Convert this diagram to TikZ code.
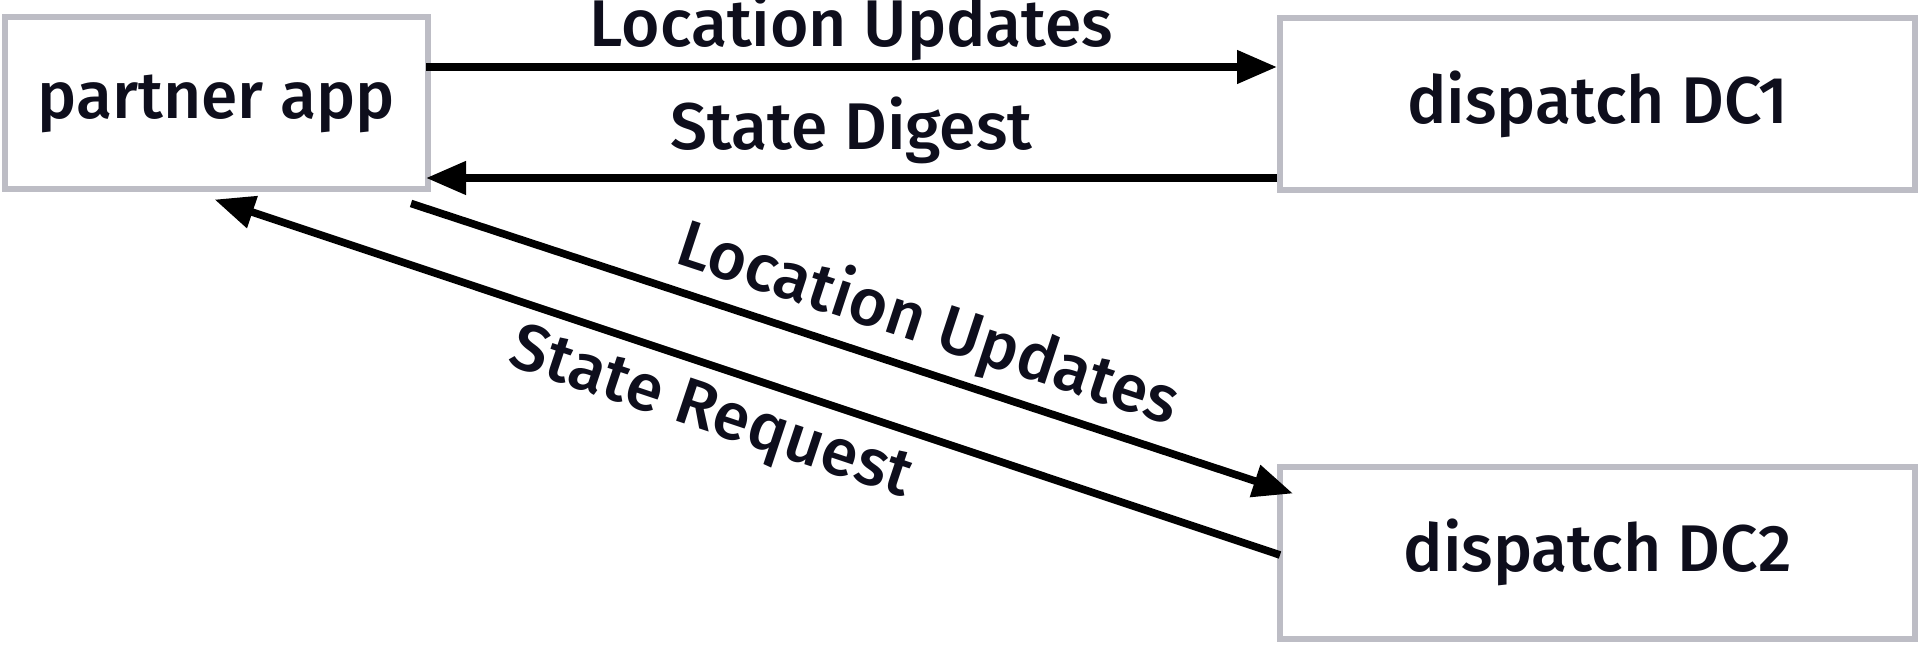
\documentclass[tikz,border=0pt]{standalone}
\usepackage{fontspec}
\setmainfont{Fira Sans Medium}
\usetikzlibrary{arrows.meta, positioning, calc}
\definecolor{boxgray}{HTML}{BDBDC5}
\definecolor{inkblue}{HTML}{0E0E1C}

\begin{document}
\begin{tikzpicture}[
    x=0.5pt, y=-0.5pt,
    >={Triangle[length=20pt, width=16pt]},
    font=\fontsize{33pt}{39pt}\selectfont,
    box/.style={draw=boxgray, line width=3pt, text=inkblue, minimum width=211.5pt, minimum height=86pt},
    dcbox/.style={box, minimum width=317.5pt},
    msg/.style={->, line width=3.8pt},
    lbl/.style={text=inkblue, inner sep=2pt}
]

\useasboundingbox (0, 0) rectangle (1921, 646);

\node (Partner) at (216.5, 103.5) [box] {partner app};
\node (DCOne) at (1597.5, 104.5) [dcbox] {dispatch DC1};
\node (DCTwo) at (1597.5, 552.5) [dcbox] {dispatch DC2};

\draw[msg] ($(Partner.east)+(-5, -36.5)$) -- ($(DCOne.west)+(0, -37.5)$)
    node[midway, above, lbl, yshift=-1pt] {Location Updates};
\draw[msg] ($(DCOne.west)+(0, 73.5)$) -- ($(Partner.east)+(-5, 74.5)$)
    node[midway, above, lbl, yshift=3pt] {State Digest};

\draw[msg] ($(Partner.south east)+(-20, 11)$) -- ($(DCTwo.north west)+(16, 30)$)
    node[pos=0.57, above, sloped, lbl, yshift=2pt] {Location Updates};
\draw[msg, <-] ($(Partner.south)+(-2, 7)$) -- ($(DCTwo.west)+(3, 2.5)$)
    node[pos=0.48, below, sloped, lbl, yshift=-5pt] {State Request};

\end{tikzpicture}
\end{document}
